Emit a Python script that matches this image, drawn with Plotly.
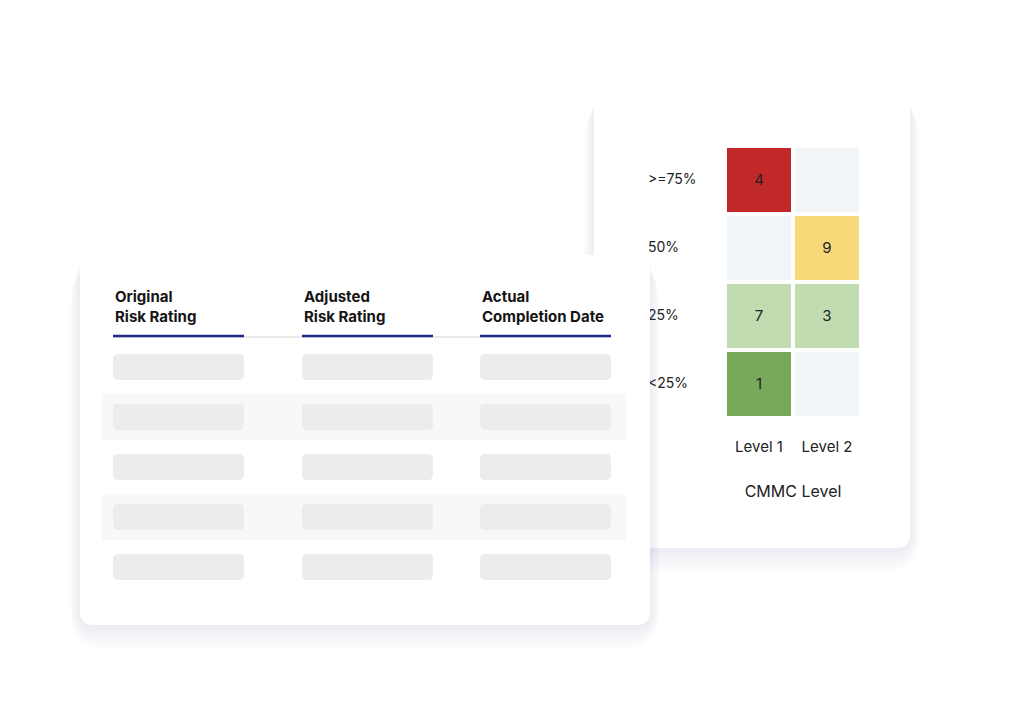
import plotly.graph_objects as go

# heatmap data
levels = ["Level 1", "Level 2"]
buckets = ["<25%", "25%", "50%", ">=75%"]
counts = [[1, None], [7, 3], [None, 9], [4, None]]
bucket_colors = ["#78a95a", "#c2dcb2", "#f7d97a", "#c0282a"]
empty_color = "#f2f5f8"

# table data
headers = ["Original<br>Risk Rating", "Adjusted<br>Risk Rating", "Actual<br>Completion Date"]
n_rows = 5

W, H = 1024, 724
OFF = 8  # page body offset


def rrect(x0, y0, x1, y1, r):
    return (f"M{x0+r},{y0} L{x1-r},{y0} Q{x1},{y0} {x1},{y0+r} L{x1},{y1-r} Q{x1},{y1} {x1-r},{y1} "
            f"L{x0+r},{y1} Q{x0},{y1} {x0},{y1-r} L{x0},{y0+r} Q{x0},{y0} {x0+r},{y0} Z")


def card(x0, y0, x1, y1, layer):
    out = []
    for i in range(6, 0, -1):
        s = i * 4
        out.append(dict(type="path", path=rrect(x0 - s * 0.4, y0 + s * 0.4, x1 + s * 0.4, y1 + s * 1.0, 14 + s),
                        fillcolor="rgba(90,100,140,0.018)", line_width=0, layer=layer, xref="x", yref="y"))
    out.append(dict(type="path", path=rrect(x0, y0, x1, y1, 14), fillcolor="white",
                    line_width=0, layer=layer, xref="x", yref="y"))
    return out


shapes = card(594, 93, 910, 548, "below")
shapes += card(80, 255, 650, 625, "above")

col_x = [113, 302, 480]
col_w = 131
row_y0, row_step = 367, 50
for r in range(n_rows):
    yc = row_y0 + r * row_step
    if r % 2 == 1:
        shapes.append(dict(type="rect", x0=102, x1=626, y0=yc - 23, y1=yc + 23, fillcolor="#f8f8f9",
                           line_width=0, layer="above", xref="x", yref="y"))
    for cx in col_x:
        shapes.append(dict(type="path", path=rrect(cx, yc - 13, cx + col_w, yc + 13, 5), fillcolor="#ececec",
                           line_width=0, layer="above", xref="x", yref="y"))
shapes.append(dict(type="line", x0=113, x1=610, y0=337, y1=337, line=dict(color="#e2e2e2", width=1.5),
                   layer="above", xref="x", yref="y"))
for cx in col_x:
    shapes.append(dict(type="line", x0=cx, x1=cx + col_w, y0=336, y1=336, line=dict(color="#25268a", width=2.5),
                       layer="above", xref="x", yref="y"))

annotations = [dict(x=cx, y=306, xref="x", yref="y", text=f"<b>{h}</b>", showarrow=False, xanchor="left",
                    yanchor="middle", align="left", font=dict(family="Inter", size=15, color="#151515"))
               for cx, h in zip(col_x, headers)]

# heatmap color codes
z, text = [], []
for bi, row in enumerate(counts):
    z.append([bi if v is not None else -1 for v in row])
    text.append(["" if v is None else str(v) for v in row])
colorscale = []
cols = [empty_color] + bucket_colors
n = len(cols)
for i, c in enumerate(cols):
    colorscale += [[i / n, c], [(i + 1) / n, c]]

fig = go.Figure()
fig.add_trace(go.Heatmap(x=levels, y=buckets, z=z, text=text, texttemplate="%{text}",
                         textfont=dict(family="Inter", size=15, color="#222"),
                         colorscale=colorscale, zmin=-1.5, zmax=n - 1.5, showscale=False,
                         xgap=4, ygap=4, hoverinfo="skip", xaxis="x2", yaxis="y2"))
# row labels, left aligned so the front card hides part of them
fig.add_trace(go.Scatter(x=[648] * len(buckets), y=buckets, mode="text", text=buckets,
                         textposition="middle right", textfont=dict(family="Inter", size=14, color="#222"),
                         hoverinfo="skip", xaxis="x", yaxis="y2"))


def dx(px):
    return (px - OFF) / W


def dy(py):
    return (H + OFF - py) / H


fig.update_layout(
    width=W, height=H, margin=dict(l=0, r=0, t=0, b=0),
    paper_bgcolor="white", plot_bgcolor="rgba(0,0,0,0)",
    xaxis=dict(range=[OFF, W + OFF], visible=False, domain=[0, 1]),
    yaxis=dict(range=[H + OFF, OFF], visible=False, domain=[0, 1]),
    xaxis2=dict(domain=[dx(725), dx(861)], anchor="y2", showgrid=False, zeroline=False, ticks="",
                tickfont=dict(family="Inter", size=15, color="#222"), ticklabelstandoff=18,
                title=dict(text="CMMC Level", font=dict(family="Inter", size=16, color="#222"), standoff=30)),
    yaxis2=dict(domain=[dy(418), dy(146)], anchor="x2", showgrid=False, zeroline=False, ticks="",
                showticklabels=False),
    shapes=shapes, annotations=annotations, showlegend=False,
)

fig.write_html("out.html")
